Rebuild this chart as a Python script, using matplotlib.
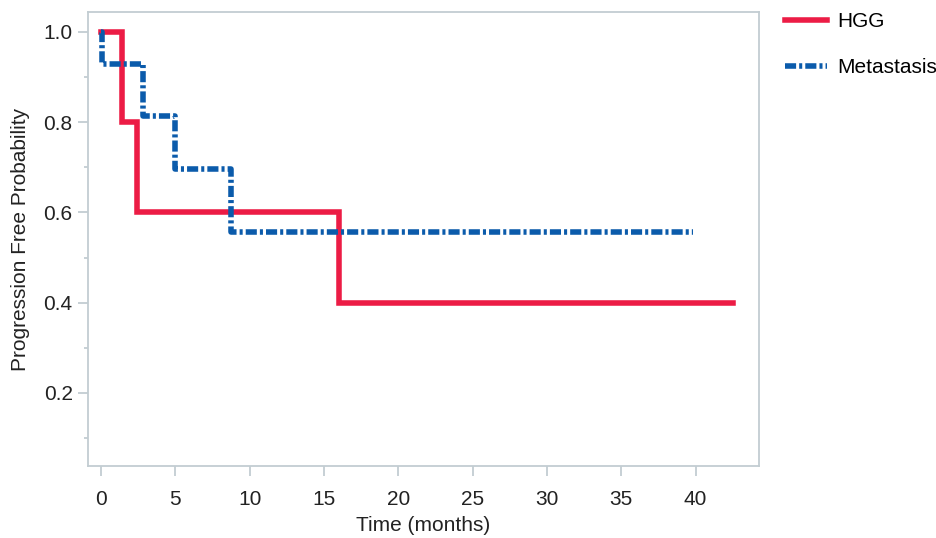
import matplotlib
matplotlib.use("Agg")
import matplotlib.pyplot as plt
from matplotlib.ticker import MultipleLocator

plt.rcParams['font.family'] = ['Liberation Sans', 'DejaVu Sans']
plt.rcParams['lines.scale_dashes'] = False

# Kaplan-Meier step data (months, survival probability)
hgg_time = [0, 1.4, 2.4, 16.0, 42.5]
hgg_prob = [1.0, 0.8, 0.6, 0.4, 0.4]

met_time = [0, 0.05, 2.8, 5.0, 8.75, 39.8]
met_prob = [1.0, 0.929, 0.813, 0.697, 0.557, 0.557]

labels = ['HGG', 'Metastasis']
red = '#EC1C45'
blue = '#0B5BAB'
grid_col = '#C3CDD2'
text_col = '#222222'
fs = 15

fig = plt.figure(figsize=(9.37, 5.38), dpi=100)
ax = fig.add_axes([0.0939, 0.1338, 0.716, 0.8439])

ax.step(hgg_time, hgg_prob, where='post', color=red, lw=4,
        solid_joinstyle='miter', label=labels[0])
ax.step(met_time, met_prob, where='post', color=blue, lw=4,
        dashes=(8, 2.2, 2.2, 2.2), dash_capstyle='butt',
        label=labels[1])

ax.set_xlim(-0.87, 44.25)
ax.set_ylim(0.038, 1.044)
ax.set_xticks([0, 5, 10, 15, 20, 25, 30, 35, 40])
ax.yaxis.set_major_locator(MultipleLocator(0.2))
ax.yaxis.set_minor_locator(MultipleLocator(0.1))
ax.set_yticks([0.2, 0.4, 0.6, 0.8, 1.0])
ax.set_yticklabels(['0.2', '0.4', '0.6', '0.8', '1.0'])

for s in ax.spines.values():
    s.set_color(grid_col)
    s.set_linewidth(1.3)

ax.tick_params(axis='both', which='major', length=7, width=1.3,
               color=grid_col, labelcolor=text_col, labelsize=fs)
ax.tick_params(axis='x', pad=10)
ax.tick_params(axis='y', pad=4)
ax.tick_params(axis='y', which='minor', length=3, width=1.3, color=grid_col)

ax.set_xlabel('Time (months)', fontsize=fs, color=text_col, labelpad=5)
ax.set_ylabel('Progression Free Probability', fontsize=fs,
              color=text_col, labelpad=10)

fig.legend(loc='upper left', bbox_to_anchor=(0.838, 0.978), frameon=False,
           fontsize=fs, handlelength=2.0, handletextpad=0.5,
           labelspacing=1.3, borderpad=0, borderaxespad=0)

fig.savefig('out.png', dpi=100)
